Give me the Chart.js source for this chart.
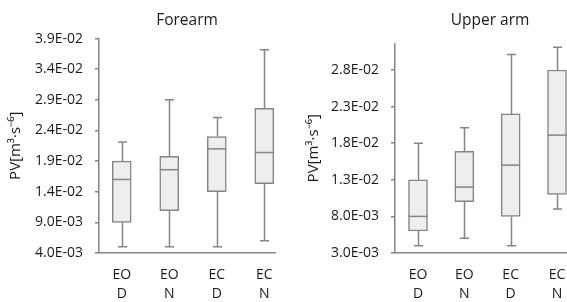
<!DOCTYPE html>
<html>
<head>
<meta charset="utf-8">
<script src="https://cdn.jsdelivr.net/npm/chart.js@4"></script>
<style>
html,body{margin:0;padding:0;background:#fff;overflow:hidden;width:567px;height:302px;}
#w1{position:absolute;left:0;top:0;}
#w2{position:absolute;left:298px;top:0;}
</style>
</head>
<body>
<div id="w1"><canvas id="c1" width="290" height="302"></canvas></div>
<div id="w2"><canvas id="c2" width="300" height="302"></canvas></div>
<script>
// ---- data ----
const catTop = ["EO", "EO", "EC", "EC"];
const catBottom = ["D", "N", "D", "N"];

const forearmMin = [0.0050, 0.0050, 0.0050, 0.0060];
const forearmQ1  = [0.0090, 0.0109, 0.0140, 0.0153];
const forearmMed = [0.0160, 0.0176, 0.0210, 0.0204];
const forearmQ3  = [0.0190, 0.0198, 0.0230, 0.0276];
const forearmMax = [0.0221, 0.0290, 0.0261, 0.0372];

const upperMin = [0.0040, 0.0050, 0.0040, 0.0090];
const upperQ1  = [0.0060, 0.0100, 0.0080, 0.0110];
const upperMed = [0.0080, 0.0120, 0.0150, 0.0191];
const upperQ3  = [0.0130, 0.0169, 0.0220, 0.0280];
const upperMax = [0.0180, 0.0201, 0.0301, 0.0311];

const forearmTicks = [0.004, 0.009, 0.014, 0.019, 0.024, 0.029, 0.034, 0.039];
const forearmTickLabels = ["4.0E-03", "9.0E-03", "1.4E-02", "1.9E-02", "2.4E-02", "2.9E-02", "3.4E-02", "3.9E-02"];
const upperTicks = [0.003, 0.008, 0.013, 0.018, 0.023, 0.028];
const upperTickLabels = ["3.0E-03", "8.0E-03", "1.3E-02", "1.8E-02", "2.3E-02", "2.8E-02"];

const yTitle = "PV[m\u00B3\u00B7s\u207B\u2076]";
// ---- end data ----

const FONT = "'Open Sans', 'Liberation Sans', sans-serif";
const GREY = "#858585";
const TXT = "#1a1a1a";

function whiskerPlugin(mins, meds, maxs, q1s, q3s) {
  return {
    id: 'whiskers',
    beforeDatasetsDraw(chart) {
      const ctx = chart.ctx, x = chart.scales.x, y = chart.scales.y;
      ctx.save();
      ctx.strokeStyle = GREY;
      ctx.lineWidth = 1.5;
      for (let i = 0; i < mins.length; i++) {
        const px = Math.round(x.getPixelForValue(i + 1)) + 0.5;
        const yMin = y.getPixelForValue(mins[i]);
        const yMax = y.getPixelForValue(maxs[i]);
        const yQ1 = y.getPixelForValue(q1s[i]);
        const yQ3 = y.getPixelForValue(q3s[i]);
        ctx.beginPath();
        ctx.moveTo(px, yQ1); ctx.lineTo(px, yMin);
        ctx.moveTo(px - 4.5, yMin); ctx.lineTo(px + 4.5, yMin);
        ctx.moveTo(px, yQ3); ctx.lineTo(px, yMax);
        ctx.moveTo(px - 4.5, yMax); ctx.lineTo(px + 4.5, yMax);
        ctx.stroke();
      }
      ctx.restore();
    },
    afterDatasetsDraw(chart) {
      const ctx = chart.ctx, x = chart.scales.x, y = chart.scales.y;
      ctx.save();
      ctx.strokeStyle = GREY;
      ctx.lineWidth = 1.5;
      for (let i = 0; i < meds.length; i++) {
        const px = x.getPixelForValue(i + 1);
        const py = y.getPixelForValue(meds[i]);
        ctx.beginPath();
        ctx.moveTo(px - 9.5, py); ctx.lineTo(px + 9.5, py);
        ctx.stroke();
      }
      ctx.restore();
    }
  };
}

function makeChart(id, title, q1, med, q3, mn, mx, ticks, tickLabels, yMin, yMax, xMin, xMax, yWidth, titlePad, padRight) {
  const data = q1.map((v, i) => ({ x: i + 1, y: [v, q3[i]] }));
  return new Chart(document.getElementById(id), {
    type: 'bar',
    data: {
      datasets: [{
        data: data,
        backgroundColor: '#eeeeee',
        borderColor: GREY,
        borderWidth: 1.5,
        borderSkipped: false,
        barThickness: 19
      }]
    },
    options: {
      responsive: false,
      animation: false,
      devicePixelRatio: 1,
      layout: { padding: { left: 0, right: padRight, top: 0, bottom: 0 } },
      plugins: {
        legend: { display: false },
        tooltip: { enabled: false },
        title: {
          display: true,
          text: title,
          fullSize: false,
          color: TXT,
          font: { family: FONT, size: 15.5, weight: 'normal' },
          padding: titlePad
        }
      },
      scales: {
        x: {
          type: 'linear',
          offset: false,
          min: xMin,
          max: xMax,
          afterBuildTicks(scale) { scale.ticks = catTop.map((c, i) => ({ value: i + 1 })); },
          afterFit(scale) { scale.height = 49; },
          grid: { display: false, drawTicks: false },
          border: { display: true, color: GREY, width: 1.5 },
          ticks: {
            color: TXT,
            padding: 12,
            font: { family: FONT, size: 14, lineHeight: 1.36 },
            autoSkip: false,
            maxRotation: 0,
            callback(value) {
              const i = Math.round(value) - 1;
              return [catTop[i], catBottom[i]];
            }
          }
        },
        y: {
          type: 'linear',
          min: yMin,
          max: yMax,
          afterBuildTicks(scale) { scale.ticks = ticks.map(v => ({ value: v })); },
          afterFit(scale) { scale.width = yWidth; },
          grid: { drawOnChartArea: false, drawTicks: true, tickLength: 4, color: GREY, lineWidth: 1.5 },
          border: { display: true, color: GREY, width: 1.5 },
          ticks: {
            color: TXT,
            padding: 12,
            font: { family: FONT, size: 14 },
            callback(value) {
              const i = ticks.findIndex(t => Math.abs(t - value) < 1e-9);
              return i >= 0 ? tickLabels[i] : '';
            }
          },
          title: {
            display: true,
            text: yTitle,
            color: TXT,
            font: { family: FONT, size: 15 },
            padding: { top: 7, bottom: 0 }
          }
        }
      }
    },
    plugins: [whiskerPlugin(mn, med, mx, q1, q3)]
  });
}

makeChart('c1', 'Forearm', forearmQ1, forearmMed, forearmQ3, forearmMin, forearmMax,
  forearmTicks, forearmTickLabels, 0.004, 0.039, 0.522, 4.225, 99, { top: 11, bottom: 9 }, 15);
makeChart('c2', 'Upper arm', upperQ1, upperMed, upperQ3, upperMin, upperMax,
  upperTicks, upperTickLabels, 0.003, 0.0316, 0.504, 4.604, 97, { top: 11, bottom: 14 }, 13);
</script>
</body>
</html>
